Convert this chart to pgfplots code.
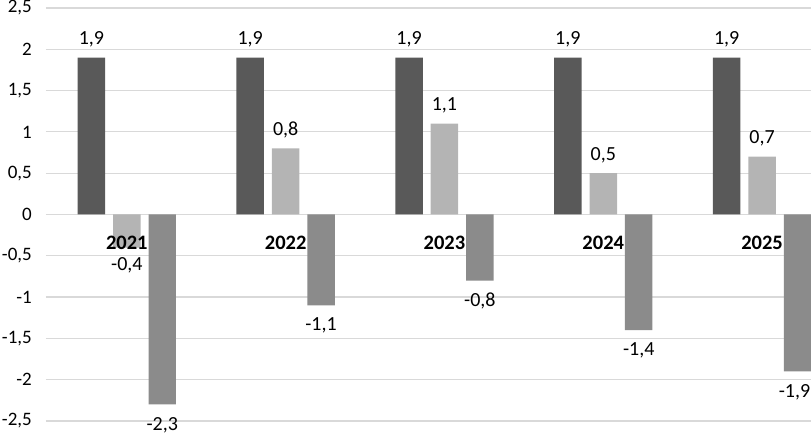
\documentclass[border=0pt]{standalone}
\usepackage{pgfplots}
\pgfplotsset{compat=1.18}
\usepackage{fontspec}
\setmainfont{Carlito}
\definecolor{sdark}{HTML}{595959}
\definecolor{slight}{HTML}{B4B4B4}
\definecolor{smid}{HTML}{8B8B8B}
\definecolor{gridc}{HTML}{D9D9D9}
\begin{document}
\begin{tikzpicture}
\begin{axis}[
  scale only axis,
  width=765pt, height=413pt,
  xmin=-0.509, xmax=4.308,
  ymin=-2.5, ymax=2.5,
  ytick={-2.5,-2,...,2.5},
  xtick=\empty,
  major tick length=0pt,
  axis line style={draw=none},
  ymajorgrids,
  grid style={draw=gridc, line width=1.2pt},
  font=\fontsize{20}{23}\selectfont,
  /pgf/number format/assume math mode=true,
  /pgf/number format/use comma,
  yticklabel style={anchor=east, inner sep=0pt, xshift=-14pt, font=\fontsize{19}{22}\selectfont},
  ybar, bar width=0.173,
  clip=true,
  nodes near coords,
  nodes near coords style={/pgf/number format/fixed, /pgf/number format/fixed zerofill, /pgf/number format/precision=1, /pgf/number format/use comma, /pgf/number format/assume math mode=true, text=black},
]
\addplot[fill=sdark, draw=none, bar shift=-0.223, every node near coord/.append style={inner ysep=10pt}] coordinates {(0,1.9) (1,1.9) (2,1.9) (3,1.9) (4,1.9)};
\addplot[fill=slight, draw=none, bar shift=0, every node near coord/.append style={inner ysep=10pt}] coordinates {(0,-0.4) (1,0.8) (2,1.1) (3,0.5) (4,0.7)};
\addplot[fill=smid, draw=none, bar shift=0.223, every node near coord/.append style={inner ysep=12.5pt}, coordinate style/.condition={x>3.5}{xshift=-3pt}] coordinates {(0,-2.3) (1,-1.1) (2,-0.8) (3,-1.4) (4,-1.9)};
\node[font=\fontsize{20.5}{23}\selectfont\bfseries, anchor=center] at (axis cs:0,-0.34) {2021};
\node[font=\fontsize{20.5}{23}\selectfont\bfseries, anchor=center] at (axis cs:1,-0.34) {2022};
\node[font=\fontsize{20.5}{23}\selectfont\bfseries, anchor=center] at (axis cs:2,-0.34) {2023};
\node[font=\fontsize{20.5}{23}\selectfont\bfseries, anchor=center] at (axis cs:3,-0.34) {2024};
\node[font=\fontsize{20.5}{23}\selectfont\bfseries, anchor=center] at (axis cs:4,-0.34) {2025};
\end{axis}
\pgfresetboundingbox
\path[use as bounding box] ([shift={(-46pt,-15pt)}]current axis.south west) rectangle ([shift={(0pt,8pt)}]current axis.north east);
\end{tikzpicture}
\end{document}
